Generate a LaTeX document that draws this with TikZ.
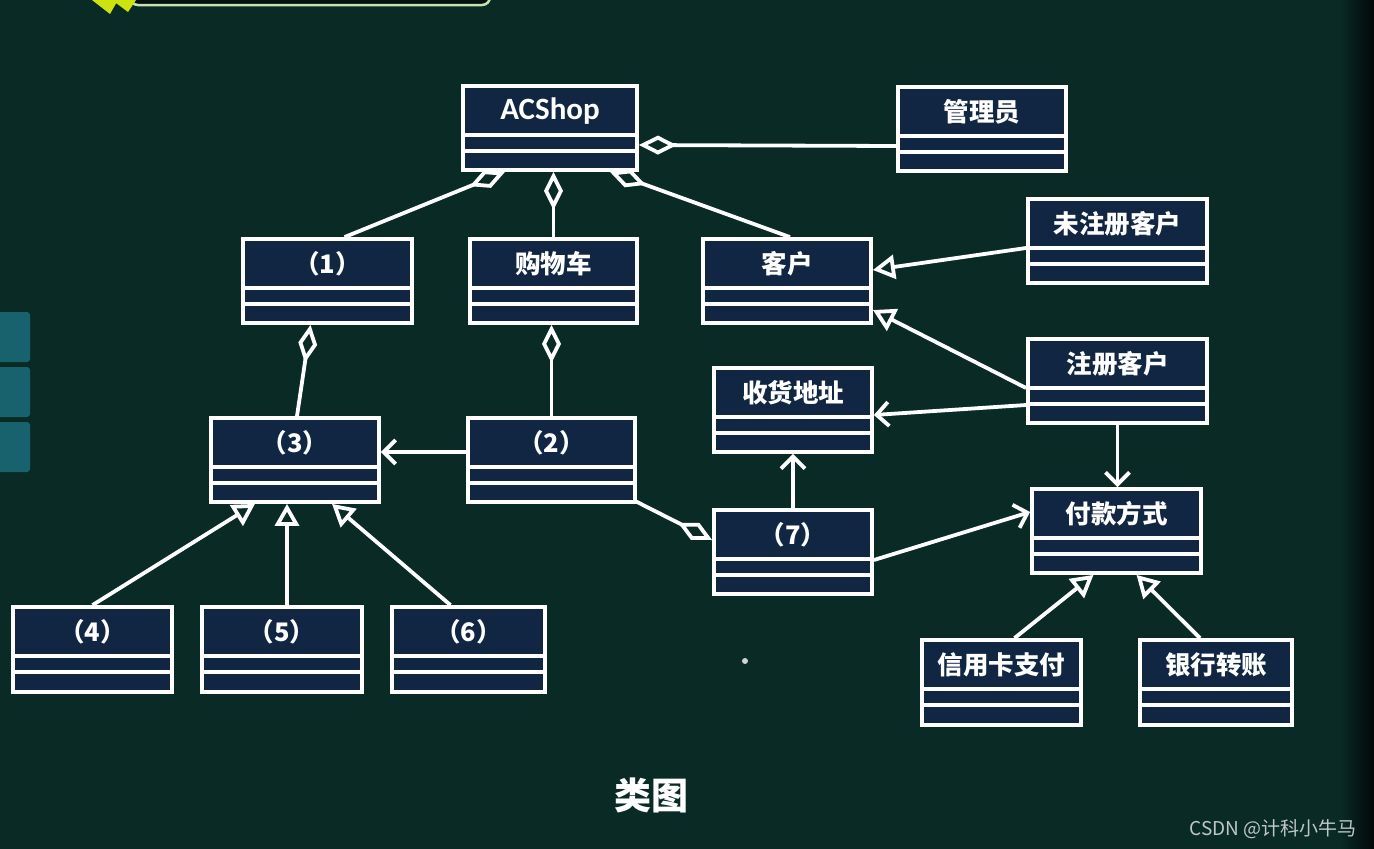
\documentclass[tikz,border=0pt]{standalone}
\usepackage{fontspec}
\setmainfont{Noto Sans CJK SC}
\newfontfamily\latinb{Carlito}
\usetikzlibrary{arrows.meta,calc}
\definecolor{bg}{RGB}{10,42,38}
\definecolor{boxfill}{RGB}{16,38,66}
\definecolor{teal}{RGB}{24,98,110}
\definecolor{wm}{RGB}{190,200,198}
\tikzset{
  cls/.style={draw=white, line width=3.8pt, fill=boxfill, inner sep=0pt, shape=rectangle},
  sepline/.style={draw=white, line width=3.8pt},
  lbl/.style={text=white, font=\fontsize{25.5}{28}\selectfont\bfseries, inner sep=0pt},
  conn/.style={draw=white, line width=3.8pt, line join=round},
  agg/.style={conn, -{Diamond[open, length=38pt, width=19pt, line width=3.8pt]}},
  gen/.style={conn, -{Triangle[open, length=22pt, width=24pt, line width=3.8pt]}},
  nav/.style={conn, -{Straight Barb[length=12pt, width=24pt, line width=3.8pt]}},
}
\newcommand\umlclass[6]{%
  \node[cls, minimum width={#4-#2}, minimum height={#5-#3}] (#1) at ({(#2+#4)/2},{(#3+#5)/2}) {};
  \draw[sepline] ([yshift=-51]#1.north west) -- ([yshift=-51]#1.north east);
  \draw[sepline] ([yshift=-67]#1.north west) -- ([yshift=-67]#1.north east);
  \node[lbl] (#1-t) at ([yshift=-27]#1.north) {#6};
}
\begin{document}
\begin{tikzpicture}[x=1pt, y=-1pt]
\useasboundingbox (0,0) rectangle (1374,849);
\fill[bg] (0,0) rectangle (1374,849);
\shade[left color=bg, right color=black!80!bg] (1340,0) rectangle (1374,849);
% top decorations
\draw[draw={rgb,255:red,200;green,225;blue,180}, line width=2.5pt, rounded corners=8pt, fill=black!60!bg] (130,-30) rectangle (490,5);
\fill[yellow!80!green] (92,0) -- (118,0) -- (110,14) -- cycle;
\fill[yellow!80!green] (112,0) -- (136,0) -- (128,12) -- cycle;
% left teal tabs
\fill[teal, rounded corners=3pt] (-10,312) rectangle (30,362);
\fill[teal, rounded corners=3pt] (-10,367) rectangle (30,417);
\fill[teal, rounded corners=3pt] (-10,422) rectangle (30,472);
% classes
\umlclass{acshop}{463}{86}{637}{170}{\latinb\fontsize{31}{34}\selectfont\bfseries ACShop}
\umlclass{admin}{898}{87}{1066}{171}{管理员}
\umlclass{c1}{243}{239}{412}{323}{（1）}
\umlclass{cart}{470}{239}{637}{323}{购物车}
\umlclass{cust}{703}{239}{871}{323}{客户}
\umlclass{unreg}{1028}{199}{1207}{283}{未注册客户}
\umlclass{reg}{1028}{339}{1207}{423}{注册客户}
\umlclass{addr}{714}{368}{872}{452}{收货地址}
\umlclass{c3}{211}{418}{379}{502}{（3）}
\umlclass{c2}{468}{418}{635}{502}{（2）}
\umlclass{c7}{714}{510}{872}{594}{（7）}
\umlclass{pay}{1032}{489}{1201}{573}{付款方式}
\umlclass{c4}{13}{607}{172}{692}{（4）}
\umlclass{c5}{202}{607}{362}{692}{（5）}
\umlclass{c6}{392}{607}{545}{692}{（6）}
\umlclass{credit}{922}{640}{1081}{725}{信用卡支付}
\umlclass{bank}{1140}{640}{1292}{725}{银行转账}
% connectors
\draw[agg] ([yshift=-17]admin.west) -- ([yshift=-17]acshop.east);
\draw[agg] ([xshift=17]c1.north) -- ([xshift=-45]acshop.south);
\draw[agg] (cart.north) -- (cart.north |- acshop.south);
\draw[agg] ([xshift=3]cust.north) -- ([xshift=60]acshop.south);
\draw[gen] ([yshift=-7]unreg.west) -- ([yshift=11]cust.east);
\draw[gen] ([yshift=-7]reg.west) -- ([yshift=-29]cust.east);
\draw[nav] ([yshift=-24]reg.west) -- ([yshift=-5]addr.east);
\draw[nav] (reg.south) -- (reg.south |- pay.north);
\draw[agg] ([xshift=2]c3.north) -- ([xshift=-17]c1.south);
\draw[agg] (c2.north) -- (c2.north |- cart.south);
\draw[nav] ([yshift=8]c2.west) -- ([yshift=8]c3.east);
\draw[agg] ([xshift=-2,yshift=3]c2.south east) -- ([yshift=12]c7.west);
\draw[nav] (c7.north) -- (c7.north |- addr.south);
\draw[nav] ([yshift=-8]c7.east) -- ([yshift=19]pay.west);
\draw[gen] (c4.north) -- ([xshift=-40]c3.south);
\draw[gen] ([xshift=5]c5.north) -- ([xshift=-8]c3.south);
\draw[gen] ([xshift=-18]c6.north) -- ([xshift=37]c3.south);
\draw[gen] ([xshift=13]credit.north) -- ([xshift=-23]pay.south);
\draw[gen] ([xshift=-16]bank.north) -- ([xshift=20]pay.south);
% captions
\node[text=white, font=\fontsize{37}{40}\selectfont\bfseries, inner sep=0pt] (title) at (651,795) {类图};
\node[text=wm, font=\fontsize{19}{22}\selectfont, inner sep=0pt] (wmark) at (1273,829) {CSDN @计科小牛马};
\fill[white!80!bg] (745,661) circle (3);
\end{tikzpicture}
\end{document}
